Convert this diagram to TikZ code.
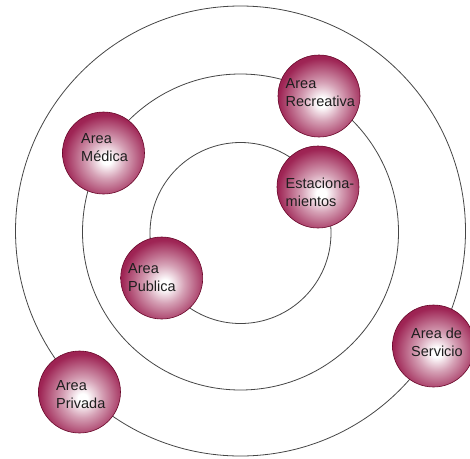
\documentclass[tikz,border=0pt]{standalone}
\usepackage{fontspec}
\setmainfont{Liberation Sans}
\definecolor{bub}{RGB}{150,18,70}
\definecolor{bubdark}{RGB}{105,8,42}
\definecolor{ring}{RGB}{70,70,70}
\definecolor{txt}{RGB}{30,30,30}
\pgfdeclareradialshading{bubshade}{\pgfpoint{2bp}{-4bp}}{color(0bp)=(white); color(3bp)=(white); color(12bp)=(bub!40!white); color(26bp)=(bub!92!white); color(38bp)=(bub); color(48bp)=(bubdark); color(100bp)=(bubdark)}
\begin{document}
\begin{tikzpicture}[x=1pt,y=-1pt,
  ringline/.style={draw=ring, line width=0.8pt},
  bubble/.style={circle, minimum size=82pt, inner sep=0pt, shading=bubshade, draw=bubdark, line width=0.6pt},
  lbl/.style={anchor=west, align=left, font=\fontsize{14.5}{18}\selectfont, text=txt, inner sep=0pt}]
\useasboundingbox (0,0) rectangle (470,458);
\fill[white] (0,0) rectangle (470,458);
% rings
\draw[ringline] (240.5,231) circle[radius=225];
\draw[ringline] (240.5,232) circle[radius=158];
\draw[ringline] (240.5,233) circle[radius=90.5];
% bubbles
\node[bubble] (rec) at (319,96) {};
\node[bubble] (med) at (103.5,153) {};
\node[bubble] (est) at (318,187) {};
\node[bubble] (pub) at (161.7,278) {};
\node[bubble] (ser) at (433.5,346) {};
\node[bubble] (pri) at (79.5,392) {};
% labels
\node[lbl] (recT) at (285.5,92.5) {Area\\Recreativa};
\node[lbl] (medT) at (81,148) {Area\\Médica};
\node[lbl] (estT) at (285.5,192.5) {Estaciona-\\mientos};
\node[lbl] (pubT) at (128,277.5) {Area\\Publica};
\node[lbl] (serT) at (411,342.5) {Area de\\Servicio};
\node[lbl] (priT) at (56,395) {Area\\Privada};
\end{tikzpicture}
\end{document}
